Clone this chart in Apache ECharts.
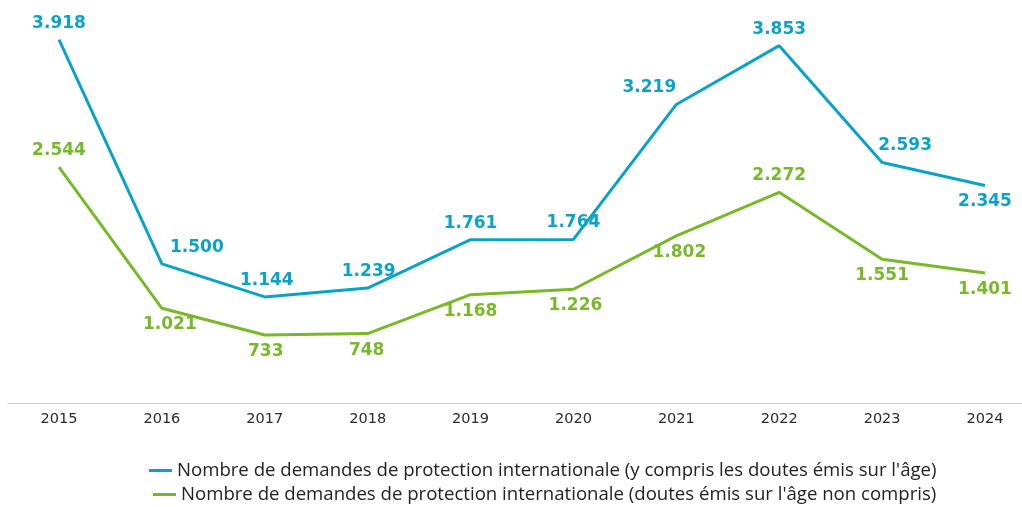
<!DOCTYPE html>
<html>
<head>
<meta charset="utf-8">
<script src="https://cdn.jsdelivr.net/npm/echarts@6/dist/echarts.min.js"></script>
<style>
html,body{margin:0;padding:0;background:#fff;}
#chart{width:1022px;height:507px;}
</style>
</head>
<body>
<div id="chart"></div>
<script>
var years = ['2015','2016','2017','2018','2019','2020','2021','2022','2023','2024'];
var avecDoutes = [3918,1500,1144,1239,1761,1764,3219,3853,2593,2345];
var sansDoutes = [2544,1021,733,748,1168,1226,1802,2272,1551,1401];
var nomAvec = "Nombre de demandes de protection internationale (y compris les doutes émis sur l'âge)";
var nomSans = "Nombre de demandes de protection internationale (doutes émis sur l'âge non compris)";

// position des étiquettes: [position, décalage x]
var posAvec = [['top',0],['top',35],['top',2],['top',1],['top',0],['top',0],['top',-27],['top',0],['top',23],['bottom',0]];
var posSans = [['top',0],['bottom',8],['bottom',1],['bottom',-1],['bottom',0],['bottom',2],['bottom',3],['top',0],['bottom',0],['bottom',0]];

var bleu = '#0aa2c9';
var vert = '#78b82a';

function fmt(v) {
    var s = String(v);
    return s.length > 3 ? s.slice(0, s.length - 3) + '.' + s.slice(-3) : s;
}

function buildData(values, pos) {
    return values.map(function (v, i) {
        return {
            value: v,
            label: {position: pos[i][0], offset: [pos[i][1], 0]}
        };
    });
}

function serie(nom, values, pos, color) {
    return {
        name: nom,
        type: 'line',
        data: buildData(values, pos),
        symbol: 'circle',
        symbolSize: 0,
        lineStyle: {color: color, width: 3},
        itemStyle: {color: color},
        label: {
            show: true,
            distance: 8,
            color: color,
            fontFamily: 'DejaVu Sans',
            fontWeight: 'bold',
            fontSize: 17,
            formatter: function (p) { return fmt(p.value); }
        },
        emphasis: {disabled: true}
    };
}

var legendText = {fontFamily: 'Open Sans', fontSize: 18.6, color: '#222'};

var myEcharts = echarts.init(document.getElementById('chart'));
var option = {
    animation: false,
    grid: [
        {left: 59, right: 37, top: 32, bottom: 104},
        {left: 8, right: 0, top: 32, bottom: 104}
    ],
    legend: [{
        data: [nomAvec],
        left: 144, top: 456,
        itemWidth: 23, itemHeight: 3, itemGap: 10,
        icon: 'rect',
        textStyle: legendText
    }, {
        data: [nomSans],
        left: 148, top: 480,
        itemWidth: 23, itemHeight: 3, itemGap: 10,
        icon: 'rect',
        textStyle: legendText
    }],
    xAxis: [{
        type: 'category',
        data: years,
        boundaryGap: false,
        gridIndex: 0,
        axisLine: {show: false},
        axisTick: {show: false},
        axisLabel: {color: '#2a2a2a', fontFamily: 'DejaVu Sans', fontSize: 14.5, margin: 9}
    }, {
        // ligne d'axe sur toute la largeur
        type: 'category',
        data: [''],
        gridIndex: 1,
        axisLine: {lineStyle: {color: '#d0d0d0', width: 1}},
        axisTick: {show: false},
        axisLabel: {show: false}
    }],
    yAxis: [{
        type: 'value',
        min: 0,
        max: 4000,
        show: false,
        gridIndex: 0
    }, {
        type: 'value',
        show: false,
        gridIndex: 1
    }],
    series: [
        serie(nomAvec, avecDoutes, posAvec, bleu),
        serie(nomSans, sansDoutes, posSans, vert)
    ]
};
myEcharts.setOption(option);
</script>
</body>
</html>
